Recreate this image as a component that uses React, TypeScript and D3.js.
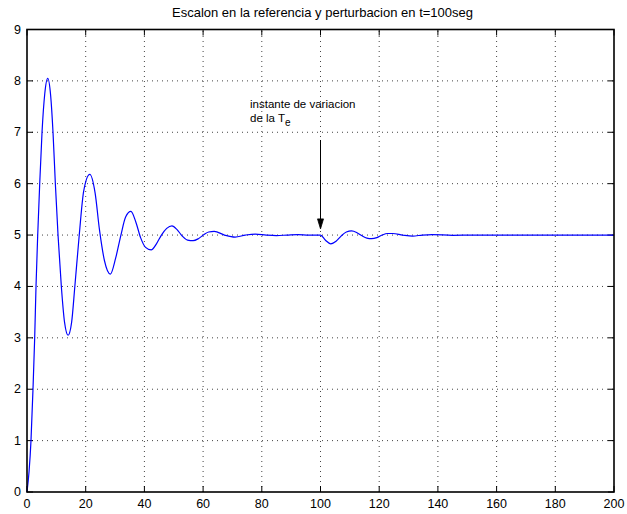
import React from "react";
import * as d3 from "d3";

// Simulated response: step in the reference, disturbance at t = 100 s
const timeSec: number[] = [
  0, 0.7, 1.36, 2.04, 2.62, 3.07, 3.65, 4.33, 5.12, 6.05, 7.05, 8.05, 8.86, 9.66, 10.57, 11.7, 12.8, 14.0,
  15.2, 16.3, 17.8, 19.3, 21.4, 23.2, 24.7, 26.4, 28.4, 30.2, 32.0, 33.6, 35.4, 37.1, 38.7, 40.4, 42.3,
  44.1, 45.8, 47.6, 49.4, 51.2, 52.9, 54.7, 56.6, 58.4, 60.1, 61.9, 63.8, 67.3, 70.9, 74.4, 77.8, 81.5,
  85.0, 88.6, 92.3, 96.0, 100.0, 101.7, 103.5, 105.3, 107.0, 108.8, 110.6, 112.3, 114.0, 115.8, 117.4,
  119.2, 121.0, 122.8, 124.6, 128.0, 131.4, 134.7, 138.0, 145.0, 152.0, 200.0,
];
const output: number[] = [
  0, 0.4, 1, 2, 3, 4, 5, 6, 7, 7.75, 8.05, 7.72, 7, 6, 5, 4, 3.3, 3.05,
  3.3, 4.0, 5.0, 5.85, 6.18, 5.82, 5.1, 4.5, 4.24, 4.55, 5.0, 5.35, 5.46, 5.25, 4.95, 4.76, 4.71,
  4.83, 5.0, 5.13, 5.18, 5.1, 4.98, 4.9, 4.89, 4.93, 5.0, 5.06, 5.07, 5.0, 4.96, 5.0, 5.02, 5.0,
  4.99, 5.0, 5.01, 5.0, 5.0, 4.9, 4.83, 4.88, 4.98, 5.06, 5.08, 5.05, 4.99, 4.94, 4.93,
  4.95, 5.0, 5.03, 5.03, 5.0, 4.98, 5.0, 5.01, 4.995, 5.0, 5.0,
];

const xTicks: number[] = [0, 20, 40, 60, 80, 100, 120, 140, 160, 180, 200];
const yTicks: number[] = [0, 1, 2, 3, 4, 5, 6, 7, 8, 9];

const titleText = "Escalon en la referencia y perturbacion en t=100seg";
const noteLine1 = "instante de variacion";
const noteLine2 = "de la T";
const noteSub = "e";
const eventTime = 100;
const arrowFrom = 6.85;
const arrowTo = 5.12;

const W = 627;
const H = 514;
const left = 27;
const right = 614;
const top = 29.5;
const bottom = 492;
const font = "'Liberation Sans', Arial, Helvetica, sans-serif";

export default function App() {
  const x = d3.scaleLinear().domain([0, 200]).range([left, right]);
  const y = d3.scaleLinear().domain([0, 9]).range([bottom, top]);

  const pts: [number, number][] = timeSec.map((t, i) => [t, output[i]]);
  const line = d3
    .line<[number, number]>()
    .x((d) => x(d[0]))
    .y((d) => y(d[1]))
    .curve(d3.curveMonotoneX);

  const tickLen = 6;
  const ax = x(eventTime);
  const aY1 = y(arrowFrom);
  const aY2 = y(arrowTo);

  return (
    <svg
      width={W}
      height={H}
      style={{ position: "absolute", left: 0, top: 0, background: "#fff" }}
      fontFamily={font}
    >
      <rect x={0} y={0} width={W} height={H} fill="#fff" />
      {/* dotted grid */}
      <g stroke="#444" strokeWidth={1} strokeDasharray="1 4">
        {xTicks.slice(1, -1).map((t) => (
          <line key={"gx" + t} x1={x(t)} x2={x(t)} y1={bottom} y2={top} />
        ))}
        {yTicks.slice(1, -1).map((t) => (
          <line key={"gy" + t} x1={left} x2={right} y1={y(t)} y2={y(t)} />
        ))}
      </g>
      {/* inward ticks on all four sides */}
      <g stroke="#000" strokeWidth={1}>
        {xTicks.map((t) => (
          <g key={"tx" + t}>
            <line x1={x(t)} x2={x(t)} y1={bottom} y2={bottom - tickLen} />
            <line x1={x(t)} x2={x(t)} y1={top} y2={top + tickLen} />
          </g>
        ))}
        {yTicks.map((t) => (
          <g key={"ty" + t}>
            <line x1={left} x2={left + tickLen} y1={y(t)} y2={y(t)} />
            <line x1={right} x2={right - tickLen} y1={y(t)} y2={y(t)} />
          </g>
        ))}
      </g>
      {/* response curve */}
      <path d={line(pts) ?? ""} fill="none" stroke="#0000ff" strokeWidth={1.2} />
      {/* axes box */}
      <rect
        x={left}
        y={top}
        width={right - left}
        height={bottom - top}
        fill="none"
        stroke="#000"
        strokeWidth={1.6}
      />
      {/* tick labels */}
      <g fontSize={12.5} fill="#000">
        {xTicks.map((t) => (
          <text key={"lx" + t} x={x(t)} y={bottom + 16} textAnchor="middle">
            {t}
          </text>
        ))}
        {yTicks.map((t) => (
          <text key={"ly" + t} x={left - 6} y={y(t) + 4} textAnchor="end">
            {t}
          </text>
        ))}
      </g>
      {/* title */}
      <text x={(left + right) / 2 + 2} y={17} textAnchor="middle" fontSize={13} fill="#000">
        {titleText}
      </text>
      {/* annotation */}
      <text x={250} y={108} fontSize={11.5} fill="#000">
        {noteLine1}
      </text>
      <text x={250} y={122} fontSize={11.5} fill="#000">
        {noteLine2}
        <tspan dy={4} fontSize={10}>
          {noteSub}
        </tspan>
      </text>
      <line x1={ax} x2={ax} y1={aY1} y2={aY2 - 8} stroke="#000" strokeWidth={1} />
      <path
        d={`M${ax - 3},${aY2 - 10} L${ax + 3},${aY2 - 10} L${ax},${aY2} Z`}
        fill="#000"
        stroke="#000"
        strokeWidth={0.8}
      />
    </svg>
  );
}
